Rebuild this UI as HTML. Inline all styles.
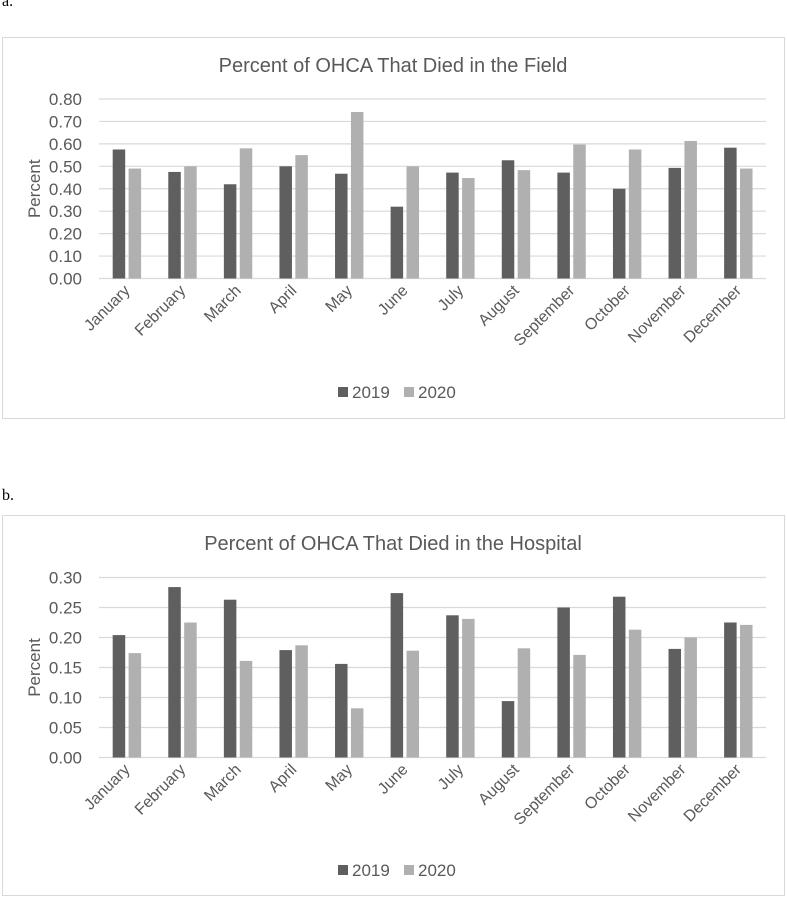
<!DOCTYPE html>
<html><head><meta charset="utf-8"><style>
body{margin:0;background:#fff;width:787px;height:898px;overflow:hidden;font-family:"Liberation Sans",sans-serif}
svg{position:absolute;left:0;top:0}
</style></head><body>
<svg id="s" width="787" height="898"></svg>
<script>
const months=["January","February","March","April","May","June","July","August","September","October","November","December"];
const fieldY2019=[0.575,0.475,0.42,0.50,0.467,0.32,0.472,0.527,0.472,0.40,0.493,0.583];
const fieldY2020=[0.49,0.50,0.58,0.55,0.742,0.50,0.448,0.483,0.597,0.575,0.613,0.49];
const fieldTicks=["0.00","0.10","0.20","0.30","0.40","0.50","0.60","0.70","0.80"];
const hospY2019=[0.204,0.284,0.263,0.179,0.156,0.274,0.237,0.094,0.250,0.268,0.181,0.225];
const hospY2020=[0.174,0.225,0.161,0.187,0.082,0.178,0.231,0.182,0.171,0.213,0.200,0.221];
const hospTicks=["0.00","0.05","0.10","0.15","0.20","0.25","0.30"];
const NS="http://www.w3.org/2000/svg";
const svg=document.getElementById('s');
function mk(tag,at,parent){const e=document.createElementNS(NS,tag);for(const k in at)e.setAttribute(k,at[k]);(parent||svg).appendChild(e);return e;}
function chart(o){
  const g=mk('g',{});
  
  
  const lab=mk('text',{x:2,y:o.labY,'font-family':'Liberation Serif, serif','font-size':16,fill:'#000'});
  lab.textContent=o.letter;
  
  
  const box=mk('rect',{x:2.5,y:o.boxTop+0.5,width:782,height:o.boxH,fill:'#fff',stroke:'#d9d9d9'},g);
  
  
  const t=mk('text',{x:393,y:o.titleY,'text-anchor':'middle','font-size':20,fill:'#595959'},g);
  t.textContent=o.title;
  
  
  const x0=99,x1=766,cw=(x1-x0)/12;
  const max=parseFloat(o.ticks[o.ticks.length-1]);
  const yS=v=>o.y0-(v/max)*(o.y0-o.yTop);
  o.ticks.forEach(tk=>{
    const v=parseFloat(tk),y=yS(v);
    const l=mk('line',{x1:x0,x2:x1,y1:y,y2:y,stroke:'#d9d9d9','stroke-width':1.2},g);
    
    
    const tx=mk('text',{x:82,y:y+6,'text-anchor':'end','font-size':17,fill:'#595959'},g);
    tx.textContent=tk;
    
    
  });
  const yt=mk('text',{x:0,y:0,'text-anchor':'middle','font-size':17,fill:'#595959',transform:`translate(40 ${(o.y0+o.yTop)/2}) rotate(-90)`},g);
  yt.textContent='Percent';
  
  
  months.forEach((m,i)=>{
    const cx=x0+cw*i;
    [[o.a,'#5f5f5f',13.7,'2019'],[o.b,'#b0b0b0',29.6,'2020']].forEach(([arr,c,off,yr])=>{
      const y=yS(arr[i]);
      const r=mk('rect',{x:cx+off,y:y,width:12.5,height:o.y0-y,fill:c},g);
      
      
    });
    const lx=cx+cw/2+4,ly=o.y0+13;
    const tl=mk('text',{x:0,y:0,'text-anchor':'end','font-size':16,fill:'#595959',transform:`translate(${lx} ${ly}) rotate(-45)`},g);
    tl.textContent=m;
    
    
  });
  [['2019','#5f5f5f',338],['2020','#b0b0b0',404]].forEach(([n,c,x])=>{
    const sq=mk('rect',{x:x,y:o.legY-11,width:10,height:10,fill:c},g);
    
    
    const lt=mk('text',{x:x+14,y:o.legY,'font-size':17,fill:'#595959'},g);
    lt.textContent=n;
    
    
  });
}
chart({name:'field-deaths-chart',letter:'a.',labY:6,boxTop:37,boxH:381,title:'Percent of OHCA That Died in the Field',titleY:72,ticks:fieldTicks,y0:278.5,yTop:99,a:fieldY2019,b:fieldY2020,legY:398});
chart({name:'hospital-deaths-chart',letter:'b.',labY:500,boxTop:515,boxH:380,title:'Percent of OHCA That Died in the Hospital',titleY:550,ticks:hospTicks,y0:757.5,yTop:577.5,a:hospY2019,b:hospY2020,legY:876});
</script>
</body></html>
